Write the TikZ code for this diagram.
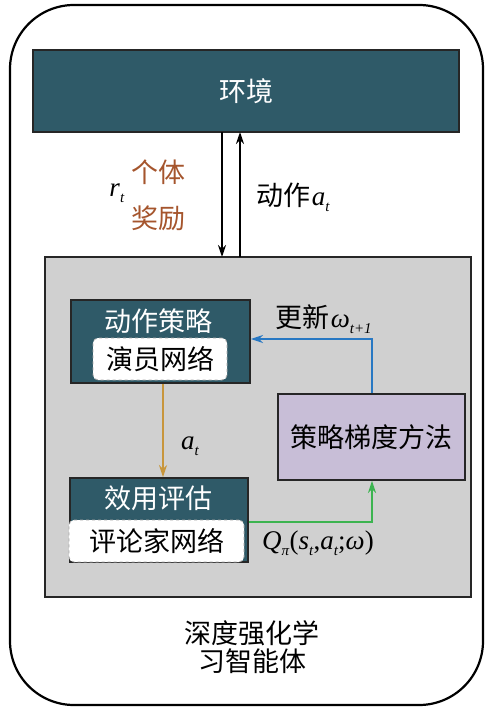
\documentclass[tikz,border=0pt]{standalone}
\usepackage{fontspec}
\setmainfont{Liberation Serif}
\newfontfamily\cjk{Noto Sans CJK SC}
\usetikzlibrary{arrows.meta}
\definecolor{teal1}{RGB}{47,90,104}
\definecolor{agentgray}{RGB}{208,208,208}
\definecolor{lav}{RGB}{200,190,215}
\definecolor{brownt}{RGB}{165,85,45}
\definecolor{orangea}{RGB}{200,150,60}
\definecolor{bluea}{RGB}{40,120,195}
\definecolor{greena}{RGB}{60,180,80}
\newcommand{\msub}[2]{\textit{#1}\raisebox{-6pt}{\fontsize{15}{15}\selectfont\textit{#2}}}
\tikzset{
  cn/.style={font=\cjk\fontsize{27}{30}\selectfont},
  tealbox/.style={draw=black!85, line width=1.8pt, fill=teal1, inner sep=0pt},
  whitebox/.style={draw=black!35, dashed, line width=0.8pt, fill=white, rounded corners=5pt, inner sep=0pt, cn, text=black},
  arr/.style={line width=2.4pt, -{Stealth[length=12pt,width=8pt]}},
  mathlbl/.style={font=\fontsize{27}{30}\selectfont}
}
\begin{document}
\begin{tikzpicture}[x=1pt,y=-1pt]
\useasboundingbox (0,0) rectangle (497,711);
% outer rounded frame
\draw[line width=2.2pt, rounded corners=64pt] (10,5) rectangle (483,705);
% environment
\node[tealbox, minimum width=426pt, minimum height=82pt] (env) at (246,91) {};
\node[cn, text=white] (envt) at (env) {环境};
% agent gray box
\node[draw=black!85, line width=2pt, fill=agentgray, minimum width=426pt, minimum height=340pt, inner sep=0pt] (agent) at (258,427) {};
% arrows between env and agent
\coordinate (dA) at (222,132);
\coordinate (dB) at (222,257);
\coordinate (uA) at (240,257);
\coordinate (uB) at (240,132);
\draw[arr] (dA) -- (dB);
\draw[arr] (uA) -- (uB);
\node[mathlbl] (rt) at (117,193) {\msub{r}{t}};
\node[cn, text=brownt] (gt) at (158,172) {个体};
\node[cn, text=brownt] (jl) at (158,218) {奖励};
\node[anchor=west, inner sep=0pt] (act) at (256,197) {{\cjk\fontsize{27}{30}\selectfont 动作}\,{\fontsize{27}{30}\selectfont\msub{a}{t}}};
% actor
\node[tealbox, minimum width=179pt, minimum height=83pt] (actor) at (160.5,341.5) {};
\node[cn, text=white] (actort) at (158,321) {动作策略};
\node[whitebox, minimum width=134pt, minimum height=42pt] (actorw) at (160,359) {演员网络};
% critic
\node[tealbox, minimum width=178pt, minimum height=84pt] (critic) at (159,520) {};
\node[cn, text=white] (critict) at (158,498) {效用评估};
\node[whitebox, minimum width=175pt, minimum height=42pt] (criticw) at (156.5,541) {评论家网络};
% policy gradient
\node[draw=black!85, line width=1.8pt, fill=lav, minimum width=187pt, minimum height=86pt, inner sep=0pt, cn] (pg) at (371.5,437) {策略梯度方法};
% orange arrow
\draw[arr, draw=orangea, -{Stealth[length=12pt,width=8pt,fill=orangea]}] (actor.south -| 163,0) -- (critic.north -| 163,0);
\node[mathlbl] (at2) at (190,446) {\msub{a}{t}};
% blue arrow
\coordinate (bturn) at (372,339);
\draw[arr, draw=bluea] (pg.north -| bturn) -- (bturn) -- (actor.east |- bturn);
\node[anchor=west, inner sep=0pt] (upd) at (275,319) {{\cjk\fontsize{27}{30}\selectfont 更新}\,{\fontsize{27}{30}\selectfont\msub{ω}{t+1}}};
% green arrow
\coordinate (gturn) at (372,522);
\draw[arr, draw=greena] (critic.east |- gturn) -- (gturn) -- (pg.south -| gturn);
\node[mathlbl] (q) at (318,543) {\msub{Q}{π}(\msub{s}{t},\msub{a}{t};\textit{ω})};
% bottom label
\node[cn, align=center] (lbl) at (252,647) {深度强化学\\[-2pt]习智能体};
\end{tikzpicture}
\end{document}
